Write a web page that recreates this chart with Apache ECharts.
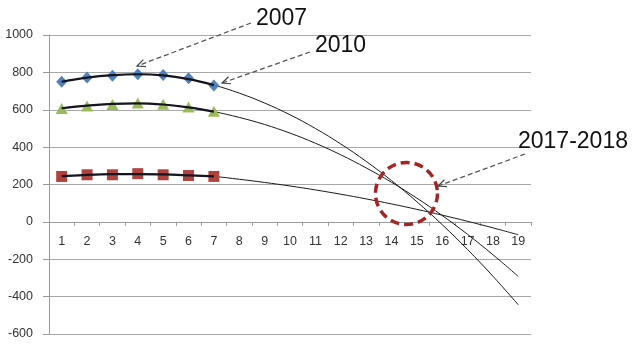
<!DOCTYPE html>
<html>
<head>
<meta charset="utf-8">
<script src="https://cdn.jsdelivr.net/npm/echarts@6/dist/echarts.min.js"></script>
<style>
html,body{margin:0;padding:0;background:#fff;}
#chart{width:640px;height:348px;}
</style>
</head>
<body>
<div id="chart"></div>
<script>
const categories = ['1','2','3','4','5','6','7','8','9','10','11','12','13','14','15','16','17','18','19'];
const yTicks = { min: -600, max: 1000, interval: 200 };

const data2007 = [750, 772, 782, 790, 786, 768, 730];
const data2010 = [607, 620, 628, 636, 630, 615, 592];
const data2017 = [243, 252, 252, 258, 252, 248, 243];

const trend2007 = [750, 772, 785, 790, 784, 764, 732, 689, 636, 573, 500, 417, 324, 221, 108, -15, -148, -291, -444];
const trend2010 = [608, 622, 631, 634, 628, 613, 590, 559, 521, 475, 421, 359, 289, 212, 127, 34, -67, -176, -292];
const trend2017 = [245, 251, 255, 256, 254, 249, 243, 228, 211, 192, 171, 148, 123, 96, 67, 36, 3, -32, -69];

const annotations = ['2007', '2010', '2017-2018'];

const gridTop = 35, gridBottom = 14, chartH = 348;
const plotH = chartH - gridTop - gridBottom;
const zeroOffset = -plotH * (0 - yTicks.min) / (yTicks.max - yTicks.min);

const chart = echarts.init(document.getElementById('chart'), null, { renderer: 'canvas' });

function markerSeries(data, symbol, color, size) {
  return {
    type: 'scatter', data: data, symbol: symbol, symbolSize: size,
    itemStyle: { color: color, opacity: 1 }, z: 3, silent: true
  };
}
function thickSeries(trend) {
  return {
    type: 'line', data: trend.slice(0, 7), smooth: 0.4, symbol: 'none',
    lineStyle: { color: '#151520', width: 2.2 }, z: 4, silent: true
  };
}
function thinSeries(trend) {
  return {
    type: 'line', data: trend, smooth: 0.4, symbol: 'none',
    lineStyle: { color: '#1a1a1a', width: 1 }, z: 2, silent: true
  };
}

function arrow(x1, y1, x2, y2) {
  const ang = Math.atan2(y1 - y2, x1 - x2);
  const L = 9, a = 0.42;
  const p1 = [x2 + L * Math.cos(ang + a), y2 + L * Math.sin(ang + a)];
  const p2 = [x2 + L * Math.cos(ang - a), y2 + L * Math.sin(ang - a)];
  return [
    { type: 'line', shape: { x1: x1, y1: y1, x2: x2, y2: y2 },
      style: { stroke: '#555', lineWidth: 1.3, lineDash: [5, 3] }, z: 10 },
    { type: 'polyline', shape: { points: [p1, [x2, y2], p2] },
      style: { stroke: '#444', lineWidth: 1.2, fill: null }, z: 10 }
  ];
}

const textStyleBig = { fill: '#111', fontSize: 23, fontFamily: 'Liberation Sans, Arial, sans-serif' };

const option = {
  animation: false,
  backgroundColor: '#fff',
  grid: { left: 49, right: 109, top: gridTop, bottom: gridBottom, containLabel: false },
  xAxis: {
    type: 'category', data: categories, boundaryGap: true, position: 'bottom', offset: zeroOffset,
    axisLine: { onZero: false, lineStyle: { color: '#9a9a9a', width: 1 } },
    axisTick: { show: true, inside: false, length: 4, lineStyle: { color: '#9a9a9a' } },
    axisLabel: { color: '#333', fontSize: 12.5, margin: 13, fontFamily: 'Liberation Sans, Arial, sans-serif' },
    splitLine: { show: false }
  },
  yAxis: {
    type: 'value', min: yTicks.min, max: yTicks.max, interval: yTicks.interval,
    axisLine: { show: true, lineStyle: { color: '#9a9a9a', width: 1 } },
    axisTick: { show: true, length: 6, lineStyle: { color: '#9a9a9a' } },
    axisLabel: { color: '#333', fontSize: 12.5, margin: 16, formatter: v => String(v),
      fontFamily: 'Liberation Sans, Arial, sans-serif' },
    splitLine: { show: true, lineStyle: { color: '#a8a8a8', width: 1 } }
  },
  series: [
    thinSeries(trend2007), thinSeries(trend2010), thinSeries(trend2017),
    markerSeries(data2007, 'diamond', '#4f81bd', [11, 12]),
    markerSeries(data2010, 'triangle', '#9bbb59', [12, 11]),
    markerSeries(data2017, 'rect', '#b0433f', [11, 11]),
    thickSeries(trend2007), thickSeries(trend2010), thickSeries(trend2017)
  ]
};
chart.setOption(option);

const graphics = [];
graphics.push({ type: 'text', left: 256, top: 7, style: Object.assign({ text: annotations[0] }, textStyleBig), z: 10 });
graphics.push({ type: 'text', left: 315, top: 34, style: Object.assign({ text: annotations[1] }, textStyleBig), z: 10 });
graphics.push({ type: 'text', left: 518, top: 130, style: Object.assign({ text: annotations[2] }, textStyleBig), z: 10 });
arrow(251, 23, 137, 66).forEach(g => graphics.push(g));
arrow(310, 52, 222, 83).forEach(g => graphics.push(g));
arrow(525, 154, 438, 186).forEach(g => graphics.push(g));
graphics.push({ type: 'circle', shape: { cx: 406.5, cy: 193.5, r: 31 },
  style: { stroke: '#a32525', lineWidth: 3.5, lineDash: [9, 5], fill: null }, z: 9 });
chart.setOption({ graphic: graphics });
</script>
</body>
</html>
